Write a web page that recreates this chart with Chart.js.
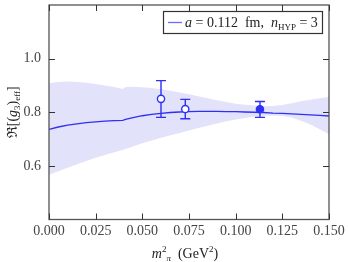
<!DOCTYPE html>
<html>
<head>
<meta charset="utf-8">
<script src="https://cdn.jsdelivr.net/npm/chart.js@4.4.1/dist/chart.umd.min.js"></script>
<style>
  html, body { margin: 0; padding: 0; background: #fff; }
  #wrap { width: 349px; height: 262px; }
</style>
</head>
<body>
<div id="wrap"><canvas id="chart"></canvas></div>
<script>
// fit curve and error band
const curveX = [0, 0.005, 0.01, 0.015, 0.02, 0.025, 0.03, 0.035, 0.0395, 0.041, 0.045, 0.05, 0.055, 0.06, 0.065, 0.07, 0.075, 0.08, 0.085, 0.09, 0.095, 0.1, 0.105, 0.11, 0.115, 0.12, 0.125, 0.13, 0.135, 0.14, 0.145, 0.15];
const curveMid = [0.736, 0.745, 0.752, 0.757, 0.761, 0.764, 0.767, 0.769, 0.770, 0.773, 0.780, 0.787, 0.792, 0.796, 0.799, 0.801, 0.802, 0.803, 0.803, 0.803, 0.802, 0.802, 0.801, 0.800, 0.799, 0.797, 0.796, 0.794, 0.792, 0.790, 0.788, 0.786];
const curveUp = [0.908, 0.913, 0.915, 0.913, 0.910, 0.905, 0.900, 0.894, 0.887, 0.894, 0.895, 0.893, 0.890, 0.886, 0.880, 0.874, 0.867, 0.860, 0.852, 0.845, 0.838, 0.832, 0.828, 0.825, 0.823, 0.823, 0.827, 0.834, 0.841, 0.847, 0.852, 0.857];
const curveLo = [0.567, 0.580, 0.593, 0.606, 0.618, 0.630, 0.641, 0.651, 0.659, 0.663, 0.672, 0.684, 0.695, 0.705, 0.714, 0.723, 0.732, 0.741, 0.750, 0.758, 0.766, 0.773, 0.779, 0.784, 0.787, 0.788, 0.786, 0.780, 0.768, 0.754, 0.737, 0.718];

// lattice points
const ptX = [0.060, 0.073, 0.113];
const ptY = [0.850, 0.812, 0.811];
const ptLo = [0.781, 0.776, 0.781];
const ptHi = [0.918, 0.848, 0.840];
const ptFilled = [false, false, true];

const xTicks = [0, 0.025, 0.05, 0.075, 0.1, 0.125, 0.15];
const yTicks = [0.6, 0.8, 1.0];

const blue = '#2f2ff5';
const serif = '"Liberation Serif", "DejaVu Serif", serif';

function pairs(xs, ys) {
    return xs.map(function (x, i) { return { x: x, y: ys[i] }; });
}

function drawRich(ctx, parts, x, y, align) {
    // parts: {t, it, dy, size}
    let total = 0;
    parts.forEach(function (p) {
        ctx.font = (p.it ? 'italic ' : '') + p.size + 'px ' + serif;
        p.w = ctx.measureText(p.t).width;
        total += p.w;
    });
    let cx = align === 'center' ? x - total / 2 : x;
    ctx.textBaseline = 'alphabetic';
    ctx.textAlign = 'left';
    parts.forEach(function (p) {
        ctx.font = (p.it ? 'italic ' : '') + p.size + 'px ' + serif;
        ctx.fillText(p.t, cx, y + (p.dy || 0));
        cx += p.w;
    });
}

const decor = {
    id: 'decor',
    afterDatasetsDraw: function (chart) {
        const ctx = chart.ctx;
        const xs = chart.scales.x;
        const ys = chart.scales.y;
        const a = chart.chartArea;
        ctx.save();

        // error bars
        ctx.strokeStyle = blue;
        ctx.lineWidth = 1.4;
        for (let i = 0; i < ptX.length; i++) {
            const px = xs.getPixelForValue(ptX[i]);
            const top = ys.getPixelForValue(ptHi[i]);
            const bot = ys.getPixelForValue(ptLo[i]);
            ctx.beginPath();
            ctx.moveTo(px, top); ctx.lineTo(px, bot);
            ctx.moveTo(px - 5, top); ctx.lineTo(px + 5, top);
            ctx.moveTo(px - 5, bot); ctx.lineTo(px + 5, bot);
            ctx.stroke();
        }
        for (let i = 0; i < ptX.length; i++) {
            const px = xs.getPixelForValue(ptX[i]);
            const py = ys.getPixelForValue(ptY[i]);
            ctx.beginPath();
            ctx.arc(px, py, 3.6, 0, Math.PI * 2);
            ctx.fillStyle = ptFilled[i] ? blue : '#fff';
            ctx.fill();
            ctx.stroke();
        }

        // frame
        ctx.strokeStyle = '#555';
        ctx.lineWidth = 1.3;
        ctx.strokeRect(a.left, a.top, a.right - a.left, a.bottom - a.top);

        // inward ticks
        ctx.strokeStyle = '#333';
        ctx.lineWidth = 1;
        ctx.beginPath();
        xTicks.forEach(function (v) {
            const px = Math.round(xs.getPixelForValue(v)) + 0.5;
            ctx.moveTo(px, a.bottom); ctx.lineTo(px, a.bottom - 6);
            ctx.moveTo(px, a.top); ctx.lineTo(px, a.top + 6);
        });
        yTicks.forEach(function (v) {
            const py = Math.round(ys.getPixelForValue(v)) + 0.5;
            ctx.moveTo(a.left, py); ctx.lineTo(a.left + 6, py);
            ctx.moveTo(a.right, py); ctx.lineTo(a.right - 6, py);
        });
        ctx.stroke();

        // legend
        ctx.fillStyle = '#fff';
        ctx.fillRect(163.5, 11.5, 159, 22);
        ctx.strokeStyle = '#333';
        ctx.lineWidth = 1.2;
        ctx.strokeRect(163.5, 11.5, 159, 22);
        ctx.strokeStyle = '#6b6bff';
        ctx.lineWidth = 1.3;
        ctx.beginPath();
        ctx.moveTo(168, 22.5); ctx.lineTo(182, 22.5);
        ctx.stroke();
        ctx.fillStyle = '#222';
        drawRich(ctx, [
            { t: 'a', it: true, size: 14 },
            { t: ' = 0.112  fm,  ', size: 14 },
            { t: 'n', it: true, size: 14 },
            { t: 'HYP', size: 9, dy: 3 },
            { t: ' = 3', size: 14 }
        ], 185, 27, 'left');

        // x title
        const mid = (a.left + a.right) / 2;
        drawRich(ctx, [
            { t: 'm', it: true, size: 14 },
            { t: '2', size: 9, dy: -6 },
            { t: 'π', it: true, size: 9, dy: 3 },
            { t: '  (GeV', size: 14 },
            { t: '2', size: 9, dy: -6 },
            { t: ')', size: 14 }
        ], mid - 4, 258, 'center');

        // y title
        ctx.translate(17, (a.top + a.bottom) / 2);
        ctx.rotate(-Math.PI / 2);
        drawRich(ctx, [
            { t: 'ℜ[(', size: 14 },
            { t: 'g', it: true, size: 14 },
            { t: '3', size: 9, dy: 3 },
            { t: ')', size: 14 },
            { t: 'eff', size: 9, dy: 3 },
            { t: ']', size: 14 }
        ], 0, 0, 'center');
        ctx.restore();
    }
};

new Chart(document.getElementById('chart'), {
    type: 'scatter',
    data: {
        datasets: [
            {
                data: pairs(curveX, curveMid),
                showLine: true,
                borderColor: blue,
                borderWidth: 1.3,
                pointRadius: 0,
                fill: false,
                order: 0
            },
            {
                data: pairs(curveX, curveUp),
                showLine: true,
                borderWidth: 0,
                borderColor: 'rgba(0,0,0,0)',
                backgroundColor: '#e2e2fb',
                pointRadius: 0,
                fill: '+1',
                order: 2
            },
            {
                data: pairs(curveX, curveLo),
                showLine: true,
                borderWidth: 0,
                borderColor: 'rgba(0,0,0,0)',
                pointRadius: 0,
                fill: false,
                order: 3
            }
        ]
    },
    options: {
        responsive: true,
        maintainAspectRatio: false,
        animation: false,
        layout: { padding: { top: 5, right: 20, left: 0, bottom: 0 } },
        plugins: {
            legend: { display: false },
            tooltip: { enabled: false },
            filler: { propagate: false }
        },
        scales: {
            x: {
                type: 'linear',
                min: 0,
                max: 0.15,
                afterFit: function (s) {
                    s.height = 42.5;
                    s.paddingLeft = 0;
                    s.paddingRight = 0;
                },
                afterBuildTicks: function (s) {
                    s.ticks = xTicks.map(function (v) { return { value: v }; });
                },
                grid: { display: false, drawTicks: false },
                border: { display: false },
                ticks: {
                    padding: 3,
                    color: '#444',
                    font: { family: serif, size: 14 },
                    maxRotation: 0,
                    callback: function (v) { return v.toFixed(3); }
                }
            },
            y: {
                min: 0.4,
                max: 1.2,
                afterFit: function (s) {
                    s.width = 49;
                    s.paddingTop = 0;
                    s.paddingBottom = 0;
                },
                afterBuildTicks: function (s) {
                    s.ticks = yTicks.map(function (v) { return { value: v }; });
                },
                grid: { display: false, drawTicks: false },
                border: { display: false },
                ticks: {
                    padding: 8,
                    color: '#444',
                    font: { family: serif, size: 14 },
                    callback: function (v) { return v.toFixed(1); }
                }
            }
        }
    },
    plugins: [decor]
});
</script>
</body>
</html>
